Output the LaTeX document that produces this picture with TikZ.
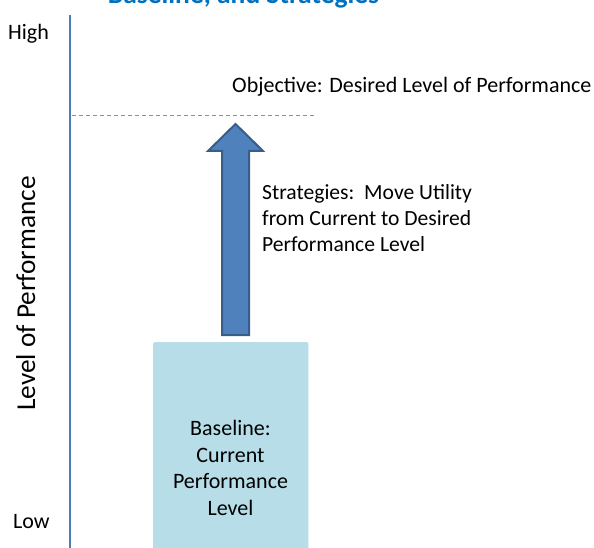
\documentclass[tikz,border=0pt]{standalone}
\usepackage{fontspec}
\setmainfont{Carlito}
\definecolor{titleblue}{HTML}{0070C0}
\definecolor{axisblue}{HTML}{4A7EBB}
\definecolor{dashblue}{HTML}{5B9BD5}
\definecolor{arrowfill}{HTML}{4F81BD}
\definecolor{arrowline}{HTML}{385D8A}
\definecolor{boxfill}{HTML}{B7DDE8}
\tikzset{
  lbl/.style={inner sep=0pt, font=\fontsize{22}{26.5}\selectfont, text=black},
  blocklbl/.style={lbl, align=center},
}
\begin{document}
\begin{tikzpicture}[x=1pt,y=-1pt]
\useasboundingbox (0,0) rectangle (594,548);
\begin{scope}
\clip (0,0) rectangle (594,548);
% title (cut at top)
\node[inner sep=0pt, anchor=base, text=titleblue, font=\fontsize{27.5}{30}\selectfont\bfseries] (title) at (243.5,4) {Baseline, and Strategies};
% axis
\coordinate (axtop) at (70,15);
\coordinate (axbot) at (70,549);
\draw[axisblue, line width=1.2pt] (axtop) -- (axbot);
\node[lbl, anchor=base west] (high) at (8,40) {High};
\node[lbl, anchor=base west] (low) at (13,528.3) {Low};
\node[inner sep=0pt, rotate=90, anchor=base, font=\fontsize{27.3}{30}\selectfont] (ylab) at (35,293.5) {Level of Performance};
% objective
\coordinate (dl) at (72,116);
\coordinate (dr) at (316,116);
\draw[dashblue, line width=1pt, dash pattern=on 4pt off 3pt] (dl) -- (dr);
\node[lbl, anchor=base west] (obj) at (232,92.7) {Objective: Desired Level of Performance};
% baseline box
\node[draw=boxfill!85!white, fill=boxfill, rounded corners=1.5pt, minimum width=155pt, minimum height=220pt, anchor=north west, inner sep=0pt] (box) at (153,342) {};
\node[blocklbl, anchor=base] (boxtxt) at (230.5,515) {Baseline:\\Current\\Performance\\Level};
% strategy arrow
\draw[fill=arrowfill, draw=arrowline, line width=2pt, line join=miter]
  (222,335) -- (222,151) -- (208,151) -- (235.5,124) -- (263,151) -- (249,151) -- (249,335) -- cycle;
\coordinate (arrowtip) at (235.5,124);
\node[lbl, font=\fontsize{21.6}{26.2}\selectfont, anchor=base west, align=left] (strat) at (262,251.7) {Strategies:\ \ Move Utility\\from Current to Desired\\Performance Level};
\end{scope}
\end{tikzpicture}
\end{document}
